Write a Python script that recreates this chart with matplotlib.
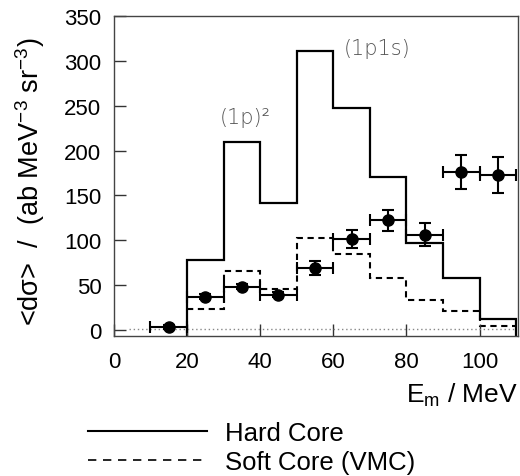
import matplotlib
matplotlib.use("Agg")
import matplotlib.pyplot as plt
from matplotlib.lines import Line2D

plt.rcParams['font.family'] = ['Liberation Sans', 'DejaVu Sans']

# Missing-energy bins (MeV)
bin_edges = [20, 30, 40, 50, 60, 70, 80, 90, 100, 110]

# Model predictions per bin
hard_core = [78, 209, 142, 311, 247, 170, 97, 58, 12]
soft_core = [23, 65, 46, 102, 84, 58, 33, 21, 4]

# Measured cross sections
em_centers = [15, 25, 35, 45, 55, 65, 75, 85, 95, 105]
sigma_meas = [3, 37, 48, 39, 69, 101, 122, 106, 176, 173]
sigma_err = [2, 3, 3, 3, 8, 10, 12, 13, 19, 20]
em_halfwidth = [5, 5, 5, 5, 5, 5, 5, 5, 5, 5]

# Background level
background_level = 1

x_ticks = [0, 20, 40, 60, 80, 100]
y_ticks = [0, 50, 100, 150, 200, 250, 300, 350]

fig = plt.figure(figsize=(5.2, 4.77), dpi=100)
ax = fig.add_axes([0.219, 0.2935, 0.777, 0.6705])

ymin, ymax = -7, 348
ax.stairs(hard_core, bin_edges, baseline=ymin, color='black', lw=1.6)
ax.stairs(soft_core, bin_edges, baseline=None, color='black', lw=1.5,
          linestyle=(0, (3, 2.2)))
ax.plot([4, 110], [background_level, background_level], color='#888888',
        lw=1.0, linestyle=(0, (1, 2)))

ax.errorbar(em_centers, sigma_meas, xerr=em_halfwidth, yerr=sigma_err,
            fmt='o', color='black', ms=8, elinewidth=1.5, capsize=4.5,
            capthick=1.5, zorder=5)

ann_style = dict(ha='center', va='center', fontsize=15, color='#555555',
                 family='DejaVu Sans', fontweight='light')
ax.text(36, 238, '(1p)²', **ann_style)
ax.text(72, 315, '(1p1s)', **ann_style)

ax.set_xlim(0, 110.5)
ax.set_ylim(ymin, ymax)
ax.set_xticks(x_ticks)
ax.set_yticks(y_ticks)
ax.tick_params(direction='in', length=8.5, width=1.0, labelsize=16,
               color='#333333')
ax.tick_params(axis='x', pad=11)
ax.tick_params(axis='y', pad=9)
for s in ax.spines.values():
    s.set_linewidth(1.0)
    s.set_color('#444444')

ax.set_xlabel(r'E$_\mathregular{m}$ / MeV', fontsize=19, loc='right',
              labelpad=6)
ax.set_ylabel(r'<dσ>  /  (ab MeV$^\mathregular{-3}$ sr$^\mathregular{-3}$)',
              fontsize=19.5)
ax.yaxis.set_label_coords(-0.165, 0.485)

handles = [Line2D([], [], color='black', lw=1.5),
           Line2D([], [], color='black', lw=1.2, linestyle=(0, (5, 4)))]
fig.legend(handles, ['Hard Core', 'Soft Core (VMC)'], loc='upper left',
           bbox_to_anchor=(0.17, 0.115), frameon=False, fontsize=18.5,
           handlelength=4.6, handletextpad=0.7, labelspacing=0.2,
           borderpad=0, borderaxespad=0)

fig.savefig('out.png', dpi=100)
